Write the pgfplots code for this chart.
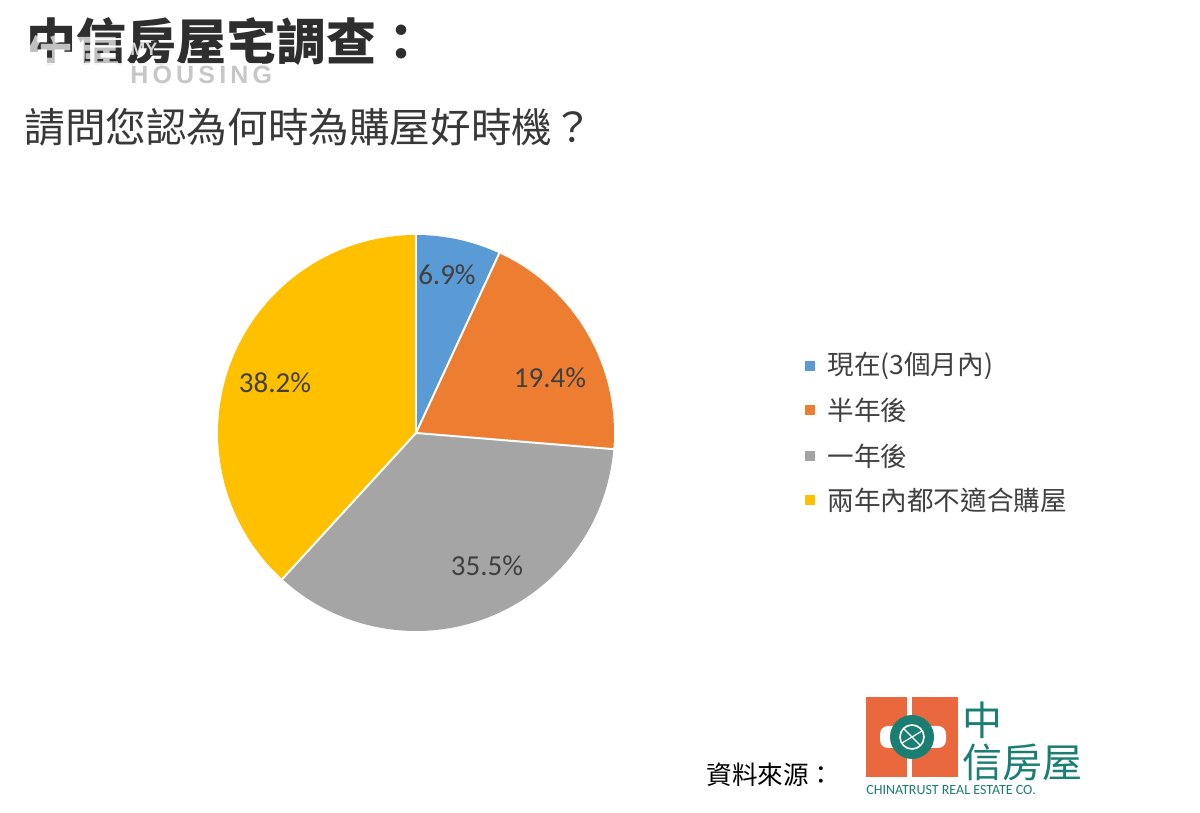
\documentclass[border=0pt]{standalone}
\usepackage{fontspec}
\setmainfont{Noto Sans CJK TC}
\newfontfamily\num{Carlito}
\newfontfamily\lat{Liberation Sans}
\usepackage{pgfplots}
\pgfplotsset{compat=1.18}

\definecolor{sBlue}{HTML}{5B9BD5}
\definecolor{sOrange}{HTML}{ED7D31}
\definecolor{sGray}{HTML}{A5A5A5}
\definecolor{sYellow}{HTML}{FFC000}
\definecolor{txt}{HTML}{404040}
\definecolor{logoOr}{HTML}{E9683E}
\definecolor{logoTeal}{HTML}{1A7F72}

% shares in percent, clockwise from 12 o'clock
\def\vA{6.9}\def\vB{19.4}\def\vC{35.5}\def\vD{38.2}
\pgfmathsetmacro\aA{90}
\pgfmathsetmacro\aB{\aA-3.6*\vA}
\pgfmathsetmacro\aC{\aB-3.6*\vB}
\pgfmathsetmacro\aD{\aC-3.6*\vC}
\pgfmathsetmacro\aE{\aD-3.6*\vD}

\begin{document}
\begin{tikzpicture}
\begin{axis}[
  x=0.5pt, y=0.5pt,
  xmin=0, xmax=1200, ymin=0, ymax=813,
  hide axis, clip=false,
]
\path (axis cs:0,0) rectangle (axis cs:1200,813);

% pie, centre (416,380), radius 198px = 99pt
\fill[sBlue]   (axis cs:416,380) -- ++(\aA:99pt) arc[start angle=\aA, end angle=\aB, radius=99pt] -- cycle;
\fill[sOrange] (axis cs:416,380) -- ++(\aB:99pt) arc[start angle=\aB, end angle=\aC, radius=99pt] -- cycle;
\fill[sGray]   (axis cs:416,380) -- ++(\aC:99pt) arc[start angle=\aC, end angle=\aD, radius=99pt] -- cycle;
\fill[sYellow] (axis cs:416,380) -- ++(\aD:99pt) arc[start angle=\aD, end angle=\aE, radius=99pt] -- cycle;
\draw[white, line width=1pt] (axis cs:416,380) -- ++(\aA:99.5pt);
\draw[white, line width=1pt] (axis cs:416,380) -- ++(\aB:99.5pt);
\draw[white, line width=1pt] (axis cs:416,380) -- ++(\aC:99.5pt);
\draw[white, line width=1pt] (axis cs:416,380) -- ++(\aD:99.5pt);

% data labels
\node[text=txt, font=\num\fontsize{14.5}{16}\selectfont] at (axis cs:447,538) {6.9\%};
\node[text=txt, font=\num\fontsize{14.5}{16}\selectfont] at (axis cs:550,435) {19.4\%};
\node[text=txt, font=\num\fontsize{14.5}{16}\selectfont] at (axis cs:487,247) {35.5\%};
\node[text=txt, font=\num\fontsize{14.5}{16}\selectfont] at (axis cs:275,430) {38.2\%};

% legend
\fill[sBlue]   (axis cs:805,442) rectangle (axis cs:815,452);
\fill[sOrange] (axis cs:805,398) rectangle (axis cs:815,408);
\fill[sGray]   (axis cs:805,352) rectangle (axis cs:815,362);
\fill[sYellow] (axis cs:805,308) rectangle (axis cs:815,318);
\node[anchor=west, text=txt, inner sep=0pt, font=\fontsize{13.3}{15}\selectfont] at (axis cs:827,447) {現在(3個月內)};
\node[anchor=west, text=txt, inner sep=0pt, font=\fontsize{13.3}{15}\selectfont] at (axis cs:827,403) {半年後};
\node[anchor=west, text=txt, inner sep=0pt, font=\fontsize{13.3}{15}\selectfont] at (axis cs:827,357) {一年後};
\node[anchor=west, text=txt, inner sep=0pt, font=\fontsize{13.3}{15}\selectfont] at (axis cs:827,313) {兩年內都不適合購屋};

% titles
\node[anchor=west, inner sep=0pt, text=black!82, font=\bfseries\fontsize{25}{28}\selectfont] at (axis cs:26,771) {中信房屋宅調查：};
\node[anchor=west, inner sep=0pt, text=black!78, font=\fontsize{20.3}{23}\selectfont] at (axis cs:24,686) {請問您認為何時為購屋好時機？};

% watermark
\fill[white, opacity=0.85] (axis cs:0,726) rectangle (axis cs:262,750);
\node[anchor=west, inner sep=0pt, text=black!22, font=\lat\bfseries\fontsize{12.5}{13}\selectfont] at (axis cs:130,738) {H\,O\,U\,S\,I\,N\,G};
\node[anchor=west, inner sep=0pt, text=white, opacity=0.8, font=\lat\bfseries\fontsize{9}{10}\selectfont] at (axis cs:130,764) {MY};
\node[anchor=west, inner sep=0pt, text=white, opacity=0.7, font=\bfseries\fontsize{24}{26}\selectfont] at (axis cs:24,755) {住展};

% source and logo
\node[anchor=west, inner sep=0pt, text=black, font=\fontsize{12.8}{14}\selectfont] at (axis cs:706,38) {資料來源：};
\fill[logoOr] (axis cs:866,36) rectangle (axis cs:958,116);
\fill[white] (axis cs:907,36) rectangle (axis cs:912,116);
\fill[white, rounded corners=4pt] (axis cs:880,65) rectangle (axis cs:946,87);
\fill[logoTeal] (axis cs:912,76) circle[radius=11pt];
\draw[white, line width=0.8pt] (axis cs:912,76) circle[radius=6pt];
\draw[white, line width=0.6pt] (axis cs:902,70) -- (axis cs:922,82) (axis cs:904,84) -- (axis cs:920,68);
\node[anchor=west, inner sep=0pt, text=logoTeal, font=\fontsize{20}{21}\selectfont] at (axis cs:962,93) {中};
\node[anchor=west, inner sep=0pt, text=logoTeal, font=\fontsize{20}{21}\selectfont] at (axis cs:962,51) {信房屋};
\node[anchor=west, inner sep=0pt, text=logoTeal, font=\num\fontsize{7}{8}\selectfont] at (axis cs:866,23) {CHINATRUST REAL ESTATE CO.};
\end{axis}
\end{tikzpicture}
\end{document}
